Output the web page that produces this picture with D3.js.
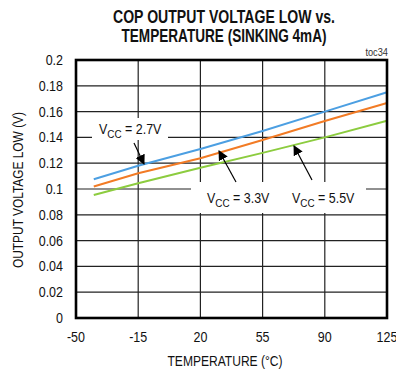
<!DOCTYPE html>
<html><head><meta charset="utf-8">
<script src="https://cdn.jsdelivr.net/npm/d3@7"></script>
<style>
body{margin:0;background:#fff;}
text{font-family:"Liberation Sans Narrow","Arial Narrow","Liberation Sans",Arial,sans-serif;}
</style></head>
<body><svg id="c" width="396" height="373"></svg>
<script>
const temps = [-40, -15, 20, 55, 90, 125];
const vcc27 = [0.1075, 0.118, 0.131, 0.145, 0.160, 0.175];
const vcc33 = [0.102, 0.1122, 0.1238, 0.138, 0.1527, 0.1667];
const vcc55 = [0.0953, 0.1044, 0.1165, 0.128, 0.140, 0.1529];
const xTicks = [-50, -15, 20, 55, 90, 125];
const yTicks = [0, 0.02, 0.04, 0.06, 0.08, 0.1, 0.12, 0.14, 0.16, 0.18, 0.2];
const series = [
  {name:"2.7", values:vcc27, color:"#4c9fe2"},
  {name:"3.3", values:vcc33, color:"#f27b25"},
  {name:"5.5", values:vcc55, color:"#8ccc3f"}
];

const svg = d3.select("#c");
const L=76, R=387, T=60, B=318;
const x = d3.scaleLinear().domain([-50,125]).range([L,R]);
const y = d3.scaleLinear().domain([0,0.2]).range([B,T]);

function squeeze(sel, f){
  sel.each(function(){
    const w = this.getComputedTextLength();
    d3.select(this).attr("textLength", w*f).attr("lengthAdjust","spacingAndGlyphs");
  });
  return sel;
}
function fit(sel, w){
  return sel.attr("textLength", w).attr("lengthAdjust","spacingAndGlyphs");
}

// grid
svg.append("g").selectAll("line").data(xTicks.slice(1,-1)).join("line")
  .attr("x1",d=>x(d)).attr("x2",d=>x(d)).attr("y1",T).attr("y2",B)
  .attr("stroke","#222").attr("stroke-width",1.2);
svg.append("g").selectAll("line").data(yTicks.slice(1,-1)).join("line")
  .attr("y1",d=>y(d)).attr("y2",d=>y(d)).attr("x1",L).attr("x2",R)
  .attr("stroke","#222").attr("stroke-width",1.2);

// label background boxes (cut grid)
svg.append("rect").attr("x",92).attr("y",118).attr("width",76).attr("height",22).attr("fill","#fff");
svg.append("rect").attr("x",191).attr("y",182).attr("width",175).attr("height",31).attr("fill","#fff");

// lines
const line = d3.line().x((d,i)=>x(temps[i])).y(d=>y(d));
svg.append("g").selectAll("path").data(series).join("path")
  .attr("d",d=>line(d.values)).attr("fill","none")
  .attr("stroke",d=>d.color).attr("stroke-width",2);

// frame
svg.append("rect").attr("x",L).attr("y",T).attr("width",R-L).attr("height",B-T)
  .attr("fill","none").attr("stroke","#000").attr("stroke-width",2.6);

// tick labels
squeeze(svg.append("g").selectAll("text").data(yTicks).join("text")
  .attr("x",63).attr("y",d=>y(d)+5).attr("text-anchor","end")
  .attr("font-size",14.5).attr("fill","#111").text(d=>String(+d.toFixed(2))), 0.86);
squeeze(svg.append("g").selectAll("text").data(xTicks).join("text")
  .attr("x",d=>x(d)).attr("y",342).attr("text-anchor","middle")
  .attr("font-size",14.5).attr("fill","#111").text(d=>d), 0.86);

// axis titles
fit(svg.append("text").attr("x",225).attr("y",366).attr("text-anchor","middle")
  .attr("font-size",14.5).attr("fill","#111").text("TEMPERATURE (°C)"), 115);
fit(svg.append("text").attr("transform","translate(23,190) rotate(-90)").attr("text-anchor","middle")
  .attr("font-size",14.5).attr("fill","#111").text("OUTPUT VOLTAGE LOW (V)"), 156);

// title
fit(svg.append("text").attr("x",224).attr("y",23).attr("text-anchor","middle")
  .attr("font-size",17.5).attr("font-weight","bold").attr("fill","#111").text("COP OUTPUT VOLTAGE LOW vs."), 222);
fit(svg.append("text").attr("x",224).attr("y",42).attr("text-anchor","middle")
  .attr("font-size",17.5).attr("font-weight","bold").attr("fill","#111").text("TEMPERATURE (SINKING 4mA)"), 205);
squeeze(svg.append("text").attr("x",388).attr("y",56).attr("text-anchor","end")
  .attr("font-size",10.5).attr("fill","#333").text("toc34"), 0.88);

// annotations
function vlabel(tx,ty,val){
  const t = svg.append("text").attr("x",tx).attr("y",ty).attr("font-size",14.5).attr("fill","#111")
    .attr("transform",`translate(${tx},0) scale(0.86,1) translate(${-tx},0)`);
  t.append("tspan").text("V");
  t.append("tspan").attr("dy",4).attr("font-size",11.5).text("CC");
  t.append("tspan").attr("dy",-4).text(" = "+val+"V");
}
vlabel(99,134,"2.7");
vlabel(207,203,"3.3");
vlabel(292,203,"5.5");

// arrows
const defs = svg.append("defs");
defs.append("marker").attr("id","ah").attr("viewBox","0 0 10 10").attr("refX",9).attr("refY",5)
  .attr("markerWidth",10).attr("markerHeight",10).attr("markerUnits","userSpaceOnUse").attr("orient","auto")
  .append("path").attr("d","M0,0L10,5L0,10Z").attr("fill","#000");
const arrows = [[134,143,144,164],[236,182,219,151],[312,180,294,146]];
svg.append("g").selectAll("line").data(arrows).join("line")
  .attr("x1",d=>d[0]).attr("y1",d=>d[1]).attr("x2",d=>d[2]).attr("y2",d=>d[3])
  .attr("stroke","#000").attr("stroke-width",1.2).attr("marker-end","url(#ah)");
</script></body></html>
